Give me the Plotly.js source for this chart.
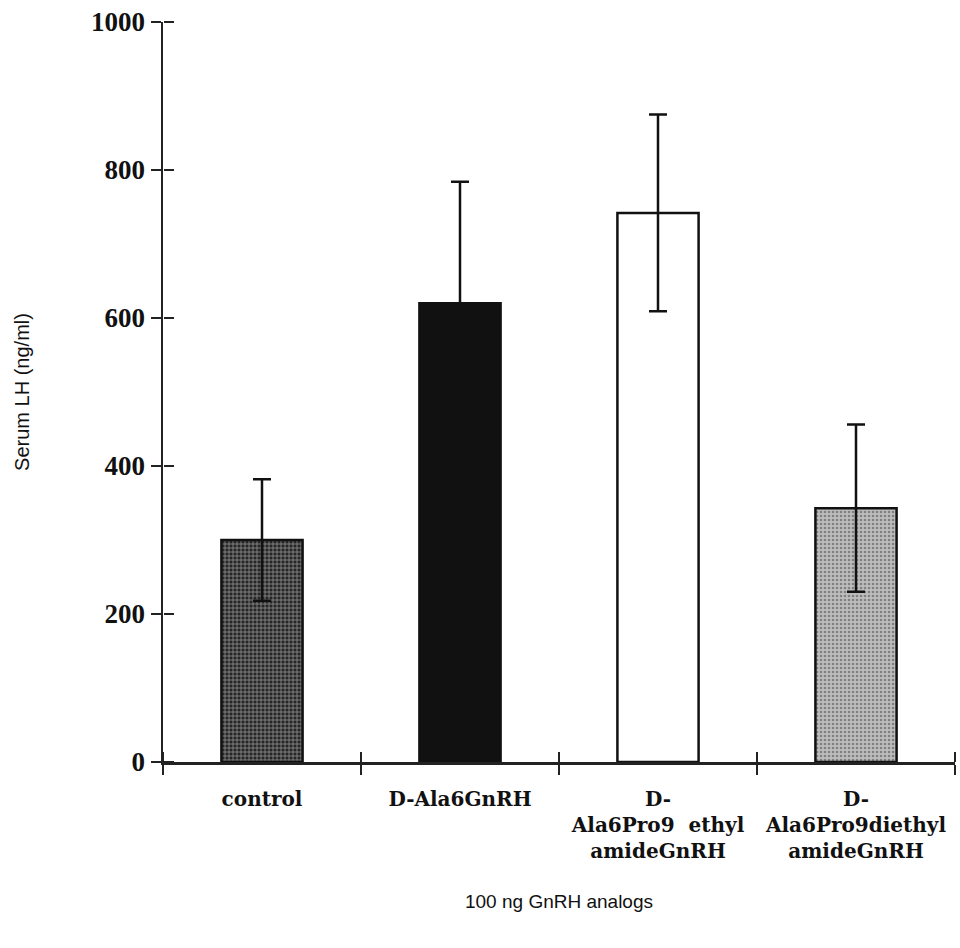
<!DOCTYPE html>
<html><head><meta charset="utf-8">
<script src="https://cdn.plot.ly/plotly-3.0.1.min.js"></script>
<style>html,body{margin:0;padding:0;background:#fff;}#chart{width:960px;height:948px;}</style>
</head><body><div id="chart"></div>
<script>
const categories = ["control", "D-Ala6GnRH", "D-<br>Ala6Pro9  ethyl<br>amideGnRH", "D-<br>Ala6Pro9diethyl<br>amideGnRH"];
const lhMean = [300, 620, 742, 343];
const lhErr = [82, 164, 133, 113];
const barFill = ["#262626", "#111111", "#ffffff", "#bdbdbd"];
const patternShape = ["+", "", "", "."];
const patternFg = ["#7a7a7a", "#111111", "#ffffff", "#555555"];
const yTicks = [0, 200, 400, 600, 800, 1000];

const serif = "Liberation Serif, Times New Roman, serif";
const sans = "Liberation Sans, Arial, sans-serif";

const trace = {
  type: "bar",
  x: categories,
  y: lhMean,
  width: 0.41,
  marker: {
    color: barFill,
    line: {color: "#111", width: 2.5},
    pattern: {shape: patternShape, fgcolor: patternFg, bgcolor: barFill, size: 4, solidity: 0.35, fillmode: "overlay"}
  },
  error_y: {type: "data", array: lhErr, visible: true, color: "#111", thickness: 2.5, width: 9},
  showlegend: false,
  hoverinfo: "none"
};

const helperX = {type: "scatter", x: categories, y: lhMean, xaxis: "x2", yaxis: "y", mode: "markers", marker: {opacity: 0, size: 1}, showlegend: false, hoverinfo: "none"};
const helperY = {type: "scatter", x: categories, y: lhMean, xaxis: "x", yaxis: "y2", mode: "markers", marker: {opacity: 0, size: 1}, showlegend: false, hoverinfo: "none"};

const layout = {
  width: 960, height: 948,
  margin: {l: 163, r: 5, t: 22, b: 186},
  paper_bgcolor: "#fff", plot_bgcolor: "rgba(0,0,0,0)",
  xaxis: {
    type: "category",
    range: [-0.5, 3.5],
    showline: true, linecolor: "#222", linewidth: 2.5,
    ticks: "outside", ticklen: 10, tickwidth: 2, tickcolor: "#222",
    tickson: "boundaries",
    ticklabelstandoff: 17,
    showgrid: false, zeroline: false,
    tickfont: {family: "DejaVu Serif, serif", size: 20, color: "#111", weight: "bold"},
    title: {text: "100 ng GnRH analogs", font: {family: sans, size: 19, color: "#111"}, standoff: 33}
  },
  xaxis2: {
    type: "category", overlaying: "x", anchor: "free", position: 0, side: "top", range: [-0.5, 3.5],
    ticks: "outside", ticklen: 10, tickwidth: 2, tickcolor: "#222",
    tickson: "boundaries", showticklabels: false, showgrid: false, zeroline: false, showline: false
  },
  yaxis: {
    range: [0, 1000],
    tickvals: yTicks,
    showline: true, linecolor: "#222", linewidth: 2.5,
    ticks: "outside", ticklen: 10, tickwidth: 2, tickcolor: "#222",
    showgrid: false, zeroline: false,
    tickfont: {family: serif, size: 27, color: "#111", weight: "bold"},
    title: {text: "Serum LH (ng/ml)", font: {family: sans, size: 20, color: "#111"}, standoff: 56}
  },
  yaxis2: {
    range: [0, 1000], overlaying: "y", anchor: "free", position: 0, side: "right", tickvals: yTicks,
    ticks: "outside", ticklen: 10, tickwidth: 2, tickcolor: "#222",
    showticklabels: false, showgrid: false, zeroline: false, showline: false
  }
};

Plotly.newPlot("chart", [trace, helperX, helperY], layout, {staticPlot: true});
</script></body></html>
